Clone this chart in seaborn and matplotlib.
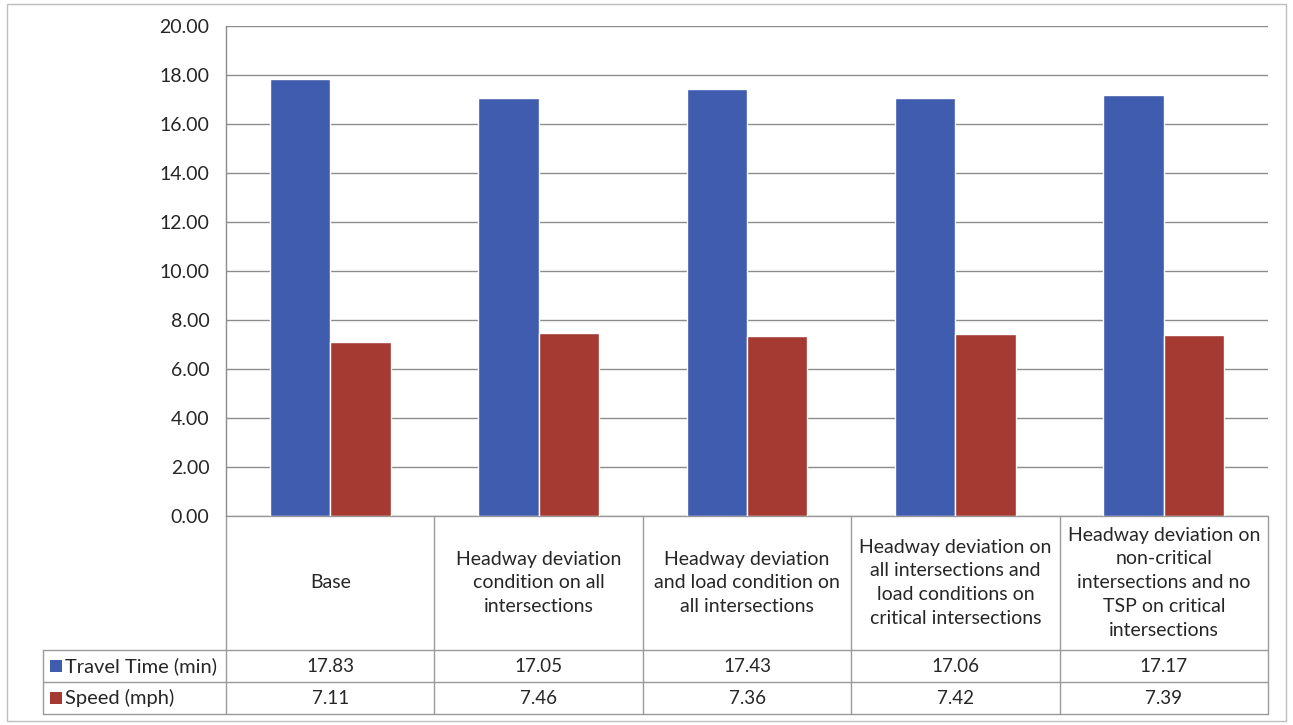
import matplotlib
matplotlib.use("Agg")
import matplotlib.pyplot as plt
from matplotlib.patches import Rectangle
from matplotlib.lines import Line2D
import seaborn as sns
import pandas as pd

# Scenario labels (as wrapped in the data table) and series values
categories = [
    "Base",
    "Headway deviation\ncondition on all\nintersections",
    "Headway deviation\nand load condition on\nall intersections",
    "Headway deviation on\nall intersections and\nload conditions on\ncritical intersections",
    "Headway deviation on\nnon-critical\nintersections and no\nTSP on critical\nintersections",
]
series_names = ["Travel Time (min)", "Speed (mph)"]
travel_time = [17.83, 17.05, 17.43, 17.06, 17.17]
speed = [7.11, 7.46, 7.36, 7.42, 7.39]
y_ticks = [0, 2, 4, 6, 8, 10, 12, 14, 16, 18, 20]

colors = ["#3F5CAF", "#A43A32"]
text_color = "#262626"
grid_color = "#8C8C8C"
FONT = "Lato"

df = pd.DataFrame({
    "scenario": categories * 2,
    "series": [series_names[0]] * len(categories) + [series_names[1]] * len(categories),
    "value": travel_time + speed,
})

sns.set_theme(style="white")
plt.rcParams["font.family"] = [FONT, "DejaVu Sans"]

W, H = 1293, 725
fig = plt.figure(figsize=(W / 100, H / 100), dpi=100)

# plot area in pixel terms
left_px, right_px, top_px, bottom_px = 226, 1268, 26, 516
ax = fig.add_axes([left_px / W, 1 - bottom_px / H,
                   (right_px - left_px) / W, (bottom_px - top_px) / H])

sns.barplot(data=df, x="scenario", y="value", hue="series",
            palette=colors, order=categories, hue_order=series_names,
            width=0.58, saturation=1, ax=ax, legend=False, zorder=3)

ax.set_xlim(-0.5, len(categories) - 0.5)
ax.set_ylim(0, 20)
ax.set_yticks(y_ticks)
ax.set_yticklabels([f"{v:.2f}" for v in y_ticks], fontsize=14, color=text_color)
ax.tick_params(axis="y", length=0, pad=12)
ax.set_xticks([])
ax.set_xlabel("")
ax.set_ylabel("")
ax.grid(axis="y", color=grid_color, linewidth=1.0, zorder=0)
for side in ["top", "right", "bottom"]:
    ax.spines[side].set_visible(False)
ax.spines["left"].set_color(grid_color)
ax.spines["left"].set_linewidth(1.0)

# ---- data table below the plot area ----
plot_h = bottom_px - top_px
cat_px = (right_px - left_px) / len(categories)

def ay(py):
    # pixel row -> axes fraction (y)
    return (bottom_px - py) / plot_h

y_head_bot = ay(650)
y_row1_bot = ay(682)
y_row2_bot = ay(714)
label_left = -0.5 - (left_px - 43) / cat_px

trans = ax.get_xaxis_transform()
line_kw = dict(color="#9A9A9A", linewidth=1.0, transform=trans, clip_on=False)

# vertical separators
for i in range(len(categories) + 1):
    x = -0.5 + i
    ax.add_line(Line2D([x, x], [0, y_row2_bot], **line_kw))
ax.add_line(Line2D([label_left, label_left], [y_head_bot, y_row2_bot], **line_kw))
# horizontal separators
ax.add_line(Line2D([-0.5, len(categories) - 0.5], [0, 0], **line_kw))
for yy in [y_head_bot, y_row1_bot, y_row2_bot]:
    ax.add_line(Line2D([label_left, len(categories) - 0.5], [yy, yy], **line_kw))

# category headers
for i, cat in enumerate(categories):
    ax.text(i, (0 + y_head_bot) / 2, cat, transform=trans, ha="center", va="center",
            fontsize=14, color=text_color, linespacing=1.5)

# value rows
row_centers = [(y_head_bot + y_row1_bot) / 2, (y_row1_bot + y_row2_bot) / 2]
for vals, yc in zip([travel_time, speed], row_centers):
    for i, v in enumerate(vals):
        ax.text(i, yc, f"{v:.2f}", transform=trans, ha="center", va="center",
                fontsize=13.5, color=text_color)

# row labels with legend keys
key_w = 12 / cat_px
key_h = 12 / plot_h
for name, col, yc in zip(series_names, colors, row_centers):
    ax.add_patch(Rectangle((label_left + 7 / cat_px, yc - key_h / 2), key_w, key_h,
                           facecolor=col, edgecolor="none", transform=trans, clip_on=False))
    ax.text(label_left + 22 / cat_px, yc, name, transform=trans, ha="left", va="center",
            fontsize=14.5, color=text_color)

# outer chart frame
fig.add_artist(Rectangle((7 / W, 4 / H), (1286 - 7) / W, (721 - 4) / H,
                         transform=fig.transFigure, facecolor="none",
                         edgecolor="#BDBDBD", linewidth=1.0))

fig.savefig("out.png", dpi=100, facecolor="white")
